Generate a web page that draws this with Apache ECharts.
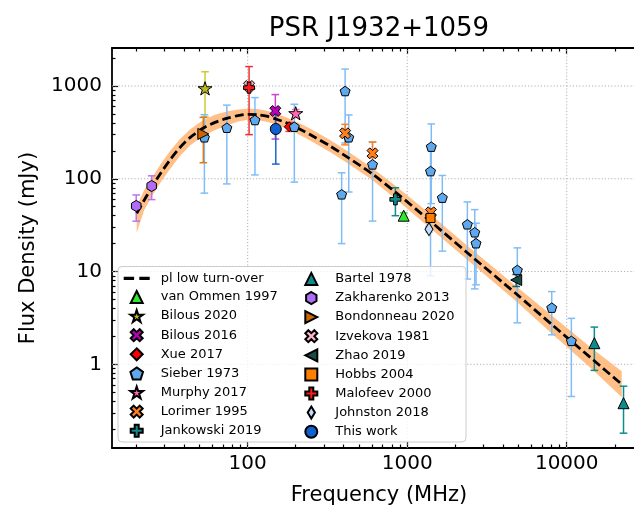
<!DOCTYPE html>
<html><head><meta charset="utf-8">
<script src="https://cdn.jsdelivr.net/npm/echarts@6/dist/echarts.min.js"></script>
<style>html,body{margin:0;padding:0;background:#fff}#c{width:634px;height:507px}</style>
</head><body><div id="c"></div>
<script>
// ---------------- data (frequency MHz, flux mJy, symmetric error mJy) ----------------
const fitFreq = [20.14, 22.38, 25.01, 28.19, 32.58, 37.63, 43.46, 52.68, 62.37, 73.86, 86.96, 100.9, 114.4, 131.5, 150.4, 175.6, 212.8, 245.9, 328.1, 407.4, 604.1, 847.3, 1390, 2360, 4859, 8054, 14685, 22125];
const fitFlux = [42.5, 58.4, 80.8, 112.1, 159.8, 217.5, 278, 352.7, 405.4, 447.6, 479.8, 495.5, 491.8, 472.7, 441.0, 399.4, 341.5, 300.2, 225.6, 177.8, 112.6, 71.35, 35.1, 16.14, 5.69, 2.69, 1.112, 0.609];
const fitLow  = [26.1, 45.6, 64.6, 89.7, 127.8, 176.1, 228.1, 289.3, 336.4, 376.1, 413.6, 432.4, 429.1, 412.5, 384.8, 348.5, 296.4, 258.8, 194.5, 153.3, 97.1, 60.7, 29.5, 13.56, 4.72, 2.15, 0.857, 0.441];
const fitHigh = [50.9, 74.9, 101, 140.1, 199.8, 268.6, 338.9, 430, 488.5, 532.6, 556.6, 567.8, 563.6, 541.7, 505.4, 457.7, 393.4, 348.2, 261.7, 206.2, 130.6, 83.8, 41.8, 19.2, 6.86, 3.36, 1.442, 0.841];

const vanOmmen1997 = [[950, 40, 3]];
const bilous2020 = [[54, 944, 480]];
const bilous2016 = [[149, 538, 270]];
const xue2017 = [[182, 364, 40]];
const sieber1973 = [
  [53.5, 280, 210], [74, 355, 267], [111, 430, 320], [196, 364, 272],
  [408, 883, 640], [430, 280, 208], [388, 68, 48], [606, 143, 108],
  [1415, 222, 168], [1400, 121, 112], [1660, 62.6, 46], [2382, 32.3, 24],
  [2650, 26.5, 20], [2700, 20.2, 13], [4900, 10.4, 7.6], [8054, 4.08, 2],
  [10690, 1.79, 1.34]
];
const murphy2017 = [[200, 508, 50]];
const lorimer1995 = [[408, 309, 77], [606, 188, 60], [1408, 43.5, 4]];
const jankowski2019 = [[843, 60, 20]];
const bartel1978 = [[14900, 1.69, 0.83], [22700, 0.381, 0.2]];
const zakharenko2013 = [[20, 50.9, 16], [25, 83.6, 24]];
const bondonneau2020 = [[52.7, 304, 155]];
const izvekova1981 = [[102, 1000, 100]];
const zhao2019 = [[4820, 8.1, 1.2]];
const hobbs2004 = [[1400, 37.8, 3]];
const malofeev2000 = [[102, 959, 660]];
const johnston2018 = [[1369, 28.6, 2]];
const thisWork = [[150, 344, 200]];

const xMajorTicks = [100, 1000, 10000];
const xMajorLabels = ['100', '1000', '10000'];
const xMinorTicks = [20,30,40,50,60,70,80,90,200,300,400,500,600,700,800,900,2000,3000,4000,5000,6000,7000,8000,9000,20000,30000];
const yMajorTicks = [1, 10, 100, 1000];
const yMajorLabels = ['1', '10', '100', '1000'];
const yMinorTicks = [0.2,0.3,0.4,0.5,0.6,0.7,0.8,0.9,2,3,4,5,6,7,8,9,20,30,40,50,60,70,80,90,200,300,400,500,600,700,800,900,2000];
const xRange = [14.1, 31400];
const yRange = [0.1253, 2568];

// ---------------- helpers ----------------
const L = Math.log10;
const FONT = 'DejaVu Sans';
function poly(n, r0, r1, start) {
  let s = '';
  const cnt = r1 ? n * 2 : n;
  for (let i = 0; i < cnt; i++) {
    const r = (r1 && i % 2) ? r1 : r0;
    const a = start + i * 2 * Math.PI / cnt;
    s += (i ? 'L' : 'M') + (r * Math.cos(a)).toFixed(4) + ',' + (r * Math.sin(a)).toFixed(4);
  }
  return 'path://' + s + 'Z';
}
const SYM = {
  triUp: 'path://M0,-1L1,1L-1,1Z',
  triLeft: 'path://M-1,0L1,-1L1,1Z',
  triRight: 'path://M1,0L-1,-1L-1,1Z',
  star: poly(5, 1, 0.381966, -Math.PI / 2),
  pent: poly(5, 1, 0, -Math.PI / 2),
  hex: poly(6, 1, 0, -Math.PI / 2),
  xFill: 'path://M0.25,0L0.5,0.25L0.75,0L1,0.25L0.75,0.5L1,0.75L0.75,1L0.5,0.75L0.25,1L0,0.75L0.25,0.5L0,0.25Z',
  pFill: 'path://M0.3333,0L0.6667,0L0.6667,0.3333L1,0.3333L1,0.6667L0.6667,0.6667L0.6667,1L0.3333,1L0.3333,0.6667L0,0.6667L0,0.3333L0.3333,0.3333Z',
  diamond: 'path://M0,-1L1,0L0,1L-1,0Z',
  thinDiamond: 'path://M0,-1L0.6,0L0,1L-0.6,0Z',
  square: 'path://M0,0L1,0L1,1L0,1Z',
  circle: 'circle'
};

const defs = [
  {name: 'van Ommen 1997', data: vanOmmen1997, sym: SYM.triUp, size: 11, face: '#30e630', ecol: '#30e630'},
  {name: 'Bilous 2020', data: bilous2020, sym: SYM.star, size: 14, face: '#b8b820', ecol: '#cccc33'},
  {name: 'Bilous 2016', data: bilous2016, sym: SYM.xFill, size: 11, face: '#bb00bb', ecol: '#cc44cc'},
  {name: 'Xue 2017', data: xue2017, sym: SYM.diamond, size: 10, face: '#ff0000', ecol: '#ff3333'},
  {name: 'Sieber 1973', data: sieber1973, sym: SYM.pent, size: 10, face: '#5ea8ee', ecol: '#80bdf7'},
  {name: 'Murphy 2017', data: murphy2017, sym: SYM.star, size: 14, face: '#ff69b4', ecol: '#ff69b4'},
  {name: 'Lorimer 1995', data: lorimer1995, sym: SYM.xFill, size: 11, face: '#ff8020', ecol: '#ff8020'},
  {name: 'Jankowski 2019', data: jankowski2019, sym: SYM.pFill, size: 11, face: '#138a8a', ecol: '#138a8a'},
  {name: 'Bartel 1978', data: bartel1978, sym: SYM.triUp, size: 11, face: '#0e8c8c', ecol: '#0e8c8c'},
  {name: 'Zakharenko 2013', data: zakharenko2013, sym: SYM.hex, size: 11, face: '#b06cf5', ecol: '#b577f0'},
  {name: 'Bondonneau 2020', data: bondonneau2020, sym: SYM.triRight, size: 11, face: '#cc6600', ecol: '#d97a1a'},
  {name: 'Izvekova 1981', data: izvekova1981, sym: SYM.xFill, size: 11, face: '#ffb3cc', ecol: '#ffb3cc'},
  {name: 'Zhao 2019', data: zhao2019, sym: SYM.triLeft, size: 11, face: '#1d4a48', ecol: '#1d6060'},
  {name: 'Hobbs 2004', data: hobbs2004, sym: SYM.square, size: 9, face: '#ff8000', ecol: '#ff8000'},
  {name: 'Malofeev 2000', data: malofeev2000, sym: SYM.pFill, size: 11, face: '#ff1a1a', ecol: '#f03030'},
  {name: 'Johnston 2018', data: johnston2018, sym: SYM.thinDiamond, size: [8, 13], face: '#c0dcff', ecol: '#a0c8f0'},
  {name: 'This work', data: thisWork, sym: SYM.circle, size: 11, face: '#1060d0', ecol: '#1a66cc'}
];

// ---------------- series ----------------
const series = [];
// dotted grid lines at the major ticks
series.push({
  type: 'custom', name: 'grid lines', silent: true, z: 1,
  data: xMajorTicks.map(v => [0, L(v)]).concat(yMajorTicks.map(v => [1, L(v)])),
  renderItem: function (params, api) {
    const kind = api.value(0), v = api.value(1);
    let p1, p2;
    if (kind === 0) { p1 = api.coord([v, L(yRange[0])]); p2 = api.coord([v, L(yRange[1])]); }
    else { p1 = api.coord([L(xRange[0]), v]); p2 = api.coord([L(xRange[1]), v]); }
    return {type: 'line', shape: {x1: p1[0], y1: p1[1], x2: p2[0], y2: p2[1]},
      style: {stroke: '#b0b0b0', lineWidth: 1, lineDash: [1.2, 2]}};
  }
});
// uncertainty band of the fit
series.push({
  type: 'custom', name: 'fit band', silent: true, z: 2,
  data: fitFreq.map((f, i) => [L(f), L(fitLow[i]), L(fitHigh[i])]),
  encode: {x: 0, y: [1, 2]},
  renderItem: function (params, api) {
    if (params.dataIndex !== 0) return null;
    const pts = [];
    for (let i = 0; i < fitFreq.length; i++) pts.push(api.coord([L(fitFreq[i]), L(fitHigh[i])]));
    for (let i = fitFreq.length - 1; i >= 0; i--) pts.push(api.coord([L(fitFreq[i]), L(fitLow[i])]));
    return {type: 'polygon', shape: {points: pts, smooth: 0}, style: {fill: '#ffbf86', stroke: null}};
  }
});
series.push({
  type: 'line', name: 'pl low turn-over', symbol: 'none', smooth: 0.25, z: 2,
  data: fitFreq.map((f, i) => [L(f), L(fitFlux[i])]),
  lineStyle: {color: '#000', width: 2.8, type: [9, 4]},
  itemStyle: {color: '#000'},
  silent: true
});
defs.forEach(d => {
  const col = d.ecol;
  series.push({
    type: 'custom', name: d.name + ' err', silent: true, z: 2,
    data: d.data.map(p => [L(p[0]), L(p[1] - p[2]), L(p[1] + p[2])]),
    encode: {x: 0, y: [1, 2]},
    renderItem: function (params, api) {
      const x = api.value(0);
      const p1 = api.coord([x, api.value(2)]);
      const p2 = api.coord([x, api.value(1)]);
      const cw = 3.8;
      const st = {stroke: col, lineWidth: 1.5};
      return {type: 'group', children: [
        {type: 'line', shape: {x1: p1[0], y1: p1[1], x2: p2[0], y2: p2[1]}, style: st},
        {type: 'line', shape: {x1: p1[0] - cw, y1: p1[1], x2: p1[0] + cw, y2: p1[1]}, style: st},
        {type: 'line', shape: {x1: p2[0] - cw, y1: p2[1], x2: p2[0] + cw, y2: p2[1]}, style: st}
      ]};
    }
  });
  series.push({
    type: 'scatter', name: d.name, symbol: d.sym, symbolSize: d.size, symbolKeepAspect: !Array.isArray(d.size), z: 2,
    data: d.data.map(p => [L(p[0]), L(p[1])]),
    itemStyle: {color: d.face, borderColor: '#000', borderWidth: 1, opacity: 1},
    emphasis: {disabled: true}, silent: true
  });
});

// ---------------- axes ----------------
const tickLine = {color: '#000', width: 1.2};
function xAx(position, ticks, len, extra) {
  return Object.assign({
    type: 'value', position: position, min: L(xRange[0]), max: L(xRange[1]),
    axisLine: {show: len > 5, onZero: false, lineStyle: {color: '#000', width: 1.8}},
    axisTick: {show: true, inside: true, length: len, lineStyle: tickLine, customValues: ticks.map(L)},
    axisLabel: {show: false},
    splitLine: {show: false}
  }, extra || {});
}
function yAx(position, ticks, len, extra) {
  return Object.assign({
    type: 'value', position: position, min: L(yRange[0]), max: L(yRange[1]),
    axisLine: {show: len > 5, onZero: false, lineStyle: {color: '#000', width: 1.8}},
    axisTick: {show: true, inside: true, length: len, lineStyle: tickLine, customValues: ticks.map(L)},
    axisLabel: {show: false},
    splitLine: {show: false}
  }, extra || {});
}
function lab(vals, labels) {
  return function (v) {
    let best = 0;
    for (let i = 0; i < vals.length; i++) if (Math.abs(L(vals[i]) - v) < Math.abs(L(vals[best]) - v)) best = i;
    return labels[best];
  };
}

const legendText = {fontSize: 13, color: '#000', fontFamily: FONT, padding: [0, 0, 0, 6]};
const option = {
  animation: false,
  backgroundColor: '#fff',
  textStyle: {fontFamily: FONT},
  title: {
    text: 'PSR J1932+1059', left: 379, top: 16, textAlign: 'center', padding: 0,
    textStyle: {fontSize: 26, fontWeight: 'normal', color: '#000', fontFamily: FONT}
  },
  grid: {left: 112, top: 48, right: -12, bottom: 59, containLabel: false, outerBoundsMode: 'none'},
  xAxis: [
    xAx('bottom', xMajorTicks, 6, {
      axisLabel: {show: true, customValues: xMajorTicks.map(L), formatter: lab(xMajorTicks, xMajorLabels),
        margin: 6, fontSize: 20, color: '#000', fontFamily: FONT},
      name: 'Frequency (MHz)', nameLocation: 'middle', nameGap: 37,
      nameTextStyle: {fontSize: 21, color: '#000', fontFamily: FONT}
    }),
    xAx('bottom', xMinorTicks, 3.5),
    xAx('top', xMajorTicks, 6),
    xAx('top', xMinorTicks, 3.5)
  ],
  yAxis: [
    yAx('left', yMajorTicks, 6, {
      axisLabel: {show: true, customValues: yMajorTicks.map(L), formatter: lab(yMajorTicks, yMajorLabels),
        margin: 10, fontSize: 20, color: '#000', fontFamily: FONT},
      name: 'Flux Density (mJy)', nameLocation: 'middle', nameGap: 73,
      nameTextStyle: {fontSize: 21, color: '#000', fontFamily: FONT}
    }),
    yAx('left', yMinorTicks, 3.5)
  ],
  graphic: [{
    type: 'rect', z: 3, silent: true,
    shape: {x: 118, y: 266.5, width: 348, height: 175.5, r: 4},
    style: {fill: 'rgba(255,255,255,0.8)', stroke: '#cccccc', lineWidth: 1}
  }],
  legend: [
    {
      data: [{name: 'pl low turn-over', icon: 'path://M0,0H10V3H0Z M15,0H25V3H15Z'},
        'van Ommen 1997', 'Bilous 2020', 'Bilous 2016', 'Xue 2017', 'Sieber 1973', 'Murphy 2017', 'Lorimer 1995', 'Jankowski 2019'],
      left: 123.7, top: 271.9, orient: 'vertical', itemWidth: 26, itemHeight: 12, itemGap: 5.1, padding: 0,
      selectedMode: false, z: 5, textStyle: legendText
    },
    {
      data: ['Bartel 1978', 'Zakharenko 2013', 'Bondonneau 2020', 'Izvekova 1981', 'Zhao 2019', 'Hobbs 2004', 'Malofeev 2000', 'Johnston 2018', 'This work'],
      left: 304.3, top: 271.9, orient: 'vertical', itemWidth: 26, itemHeight: 12, itemGap: 5.1, padding: 0,
      selectedMode: false, z: 5, textStyle: legendText
    }
  ],
  series: series
};
const chart = echarts.init(document.getElementById('c'), null, {renderer: 'canvas'});
chart.setOption(option);
</script>
</body></html>
